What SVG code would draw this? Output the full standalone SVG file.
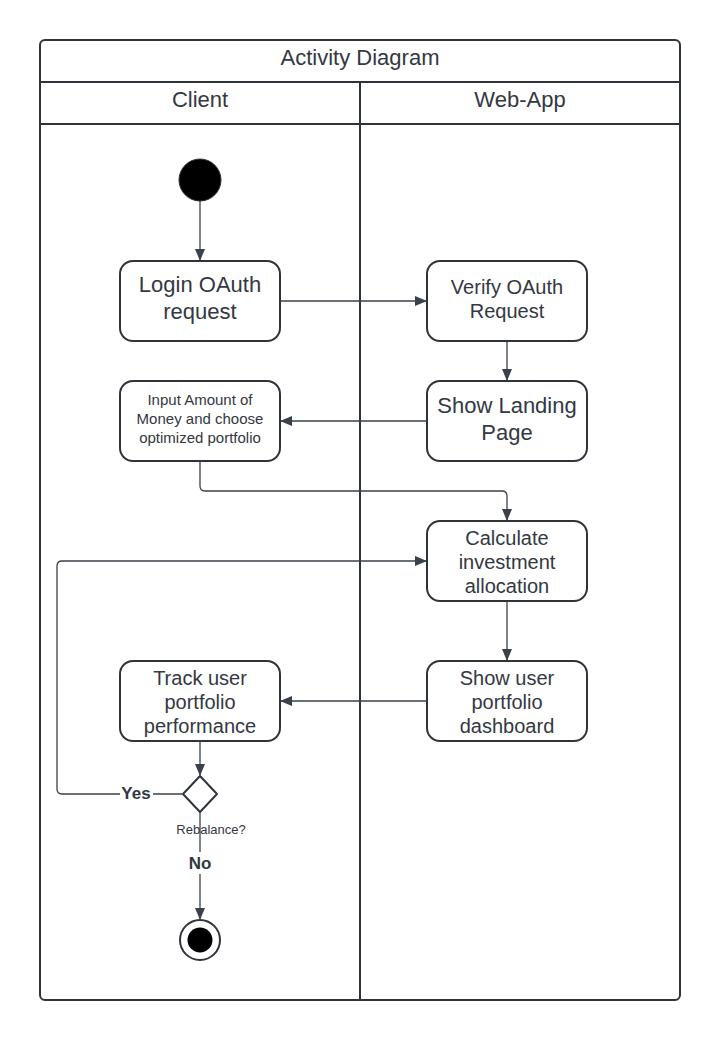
<svg xmlns="http://www.w3.org/2000/svg" width="720" height="1041" viewBox="0 0 720 1041">
<style>
text{font-family:"Liberation Sans",Arial,sans-serif;fill:#333842;text-anchor:middle}
.frame{fill:none;stroke:#2f343b;stroke-width:2}
.box{fill:#fff;stroke:#2f343b;stroke-width:2}
.c{fill:none;stroke:#3a414a;stroke-width:1.3}
.lbl{font-weight:bold;font-size:17px}
.t22{font-size:22px}
.t20{font-size:20px}
.t15{font-size:15px}
</style>
<defs>
<marker id="ah" viewBox="0 0 12 12" refX="11" refY="6" markerWidth="12" markerHeight="12" markerUnits="userSpaceOnUse" orient="auto">
<path d="M0,1 L12,6 L0,11 Z" fill="#3a414a"/>
</marker>
</defs>
<rect width="720" height="1041" fill="#fff"/>
<g id="frame">
<rect class="frame" x="40" y="40" width="640" height="960" rx="5"/>
<line class="frame" x1="40" y1="82" x2="680" y2="82"/>
<line class="frame" x1="40" y1="124" x2="680" y2="124"/>
<line class="frame" x1="360" y1="82" x2="360" y2="1000"/>
<text class="t22" x="360" y="65">Activity Diagram</text>
<text class="t22" x="200" y="107">Client</text>
<text class="t22" x="520" y="107">Web-App</text>
</g>
<g id="connectors">
<line class="c" x1="200" y1="201" x2="200" y2="260" marker-end="url(#ah)"/>
<line class="c" x1="280" y1="301" x2="426" y2="301" marker-end="url(#ah)"/>
<line class="c" x1="507" y1="341" x2="507" y2="380" marker-end="url(#ah)"/>
<line class="c" x1="427" y1="421" x2="281" y2="421" marker-end="url(#ah)"/>
<path class="c" d="M200,461 V486 Q200,491 205,491 H502 Q507,491 507,496 V520" marker-end="url(#ah)"/>
<line class="c" x1="507" y1="601" x2="507" y2="660" marker-end="url(#ah)"/>
<line class="c" x1="427" y1="701" x2="281" y2="701" marker-end="url(#ah)"/>
<line class="c" x1="200" y1="741" x2="200" y2="775" marker-end="url(#ah)"/>
<path class="c" d="M182,794 H62 Q57,794 57,789 V566 Q57,561 62,561 H426" marker-end="url(#ah)"/>
<path class="c" d="M200,812 V919" marker-end="url(#ah)"/>
<rect x="120" y="783" width="33" height="20" fill="#fff"/>
<text class="lbl" x="136" y="799">Yes</text>
<rect x="187" y="852" width="26" height="22" fill="#fff"/>
<text class="lbl" x="200" y="869">No</text>
</g>
<g id="start"><circle cx="200" cy="180" r="21" fill="#000" stroke="#2f343b" stroke-width="1"/></g>
<g id="login"><rect class="box" x="120" y="261" width="160" height="80" rx="13"/>
<text class="t22" x="200" y="292">Login OAuth</text><text class="t22" x="200" y="319">request</text></g>
<g id="verify"><rect class="box" x="427" y="261" width="160" height="80" rx="13"/>
<text class="t20" x="507" y="294">Verify OAuth</text><text class="t20" x="507" y="318">Request</text></g>
<g id="landing"><rect class="box" x="427" y="381" width="160" height="80" rx="13"/>
<text class="t22" x="507" y="413">Show Landing</text><text class="t22" x="507" y="440">Page</text></g>
<g id="input"><rect class="box" x="120" y="381" width="160" height="80" rx="13"/>
<text class="t15" x="200" y="405">Input Amount of</text><text class="t15" x="200" y="424">Money and choose</text><text class="t15" x="200" y="443">optimized portfolio</text></g>
<g id="calc"><rect class="box" x="427" y="521" width="160" height="80" rx="13"/>
<text class="t20" x="507" y="545">Calculate</text><text class="t20" x="507" y="569">investment</text><text class="t20" x="507" y="593">allocation</text></g>
<g id="dash"><rect class="box" x="427" y="661" width="160" height="80" rx="13"/>
<text class="t20" x="507" y="685">Show user</text><text class="t20" x="507" y="709">portfolio</text><text class="t20" x="507" y="733">dashboard</text></g>
<g id="track"><rect class="box" x="120" y="661" width="160" height="80" rx="13"/>
<text class="t20" x="200" y="685">Track user</text><text class="t20" x="200" y="709">portfolio</text><text class="t20" x="200" y="733">performance</text></g>
<g id="decision"><path class="box" d="M200,776 L217,794 L200,812 L183,794 Z" stroke-linejoin="round"/>
<text x="211" y="834" font-size="13">Rebalance?</text></g>
<g id="end"><circle cx="200" cy="940" r="20" fill="#fff" stroke="#2f343b" stroke-width="2"/><circle cx="200" cy="940" r="12.5" fill="#000"/></g>
</svg>
